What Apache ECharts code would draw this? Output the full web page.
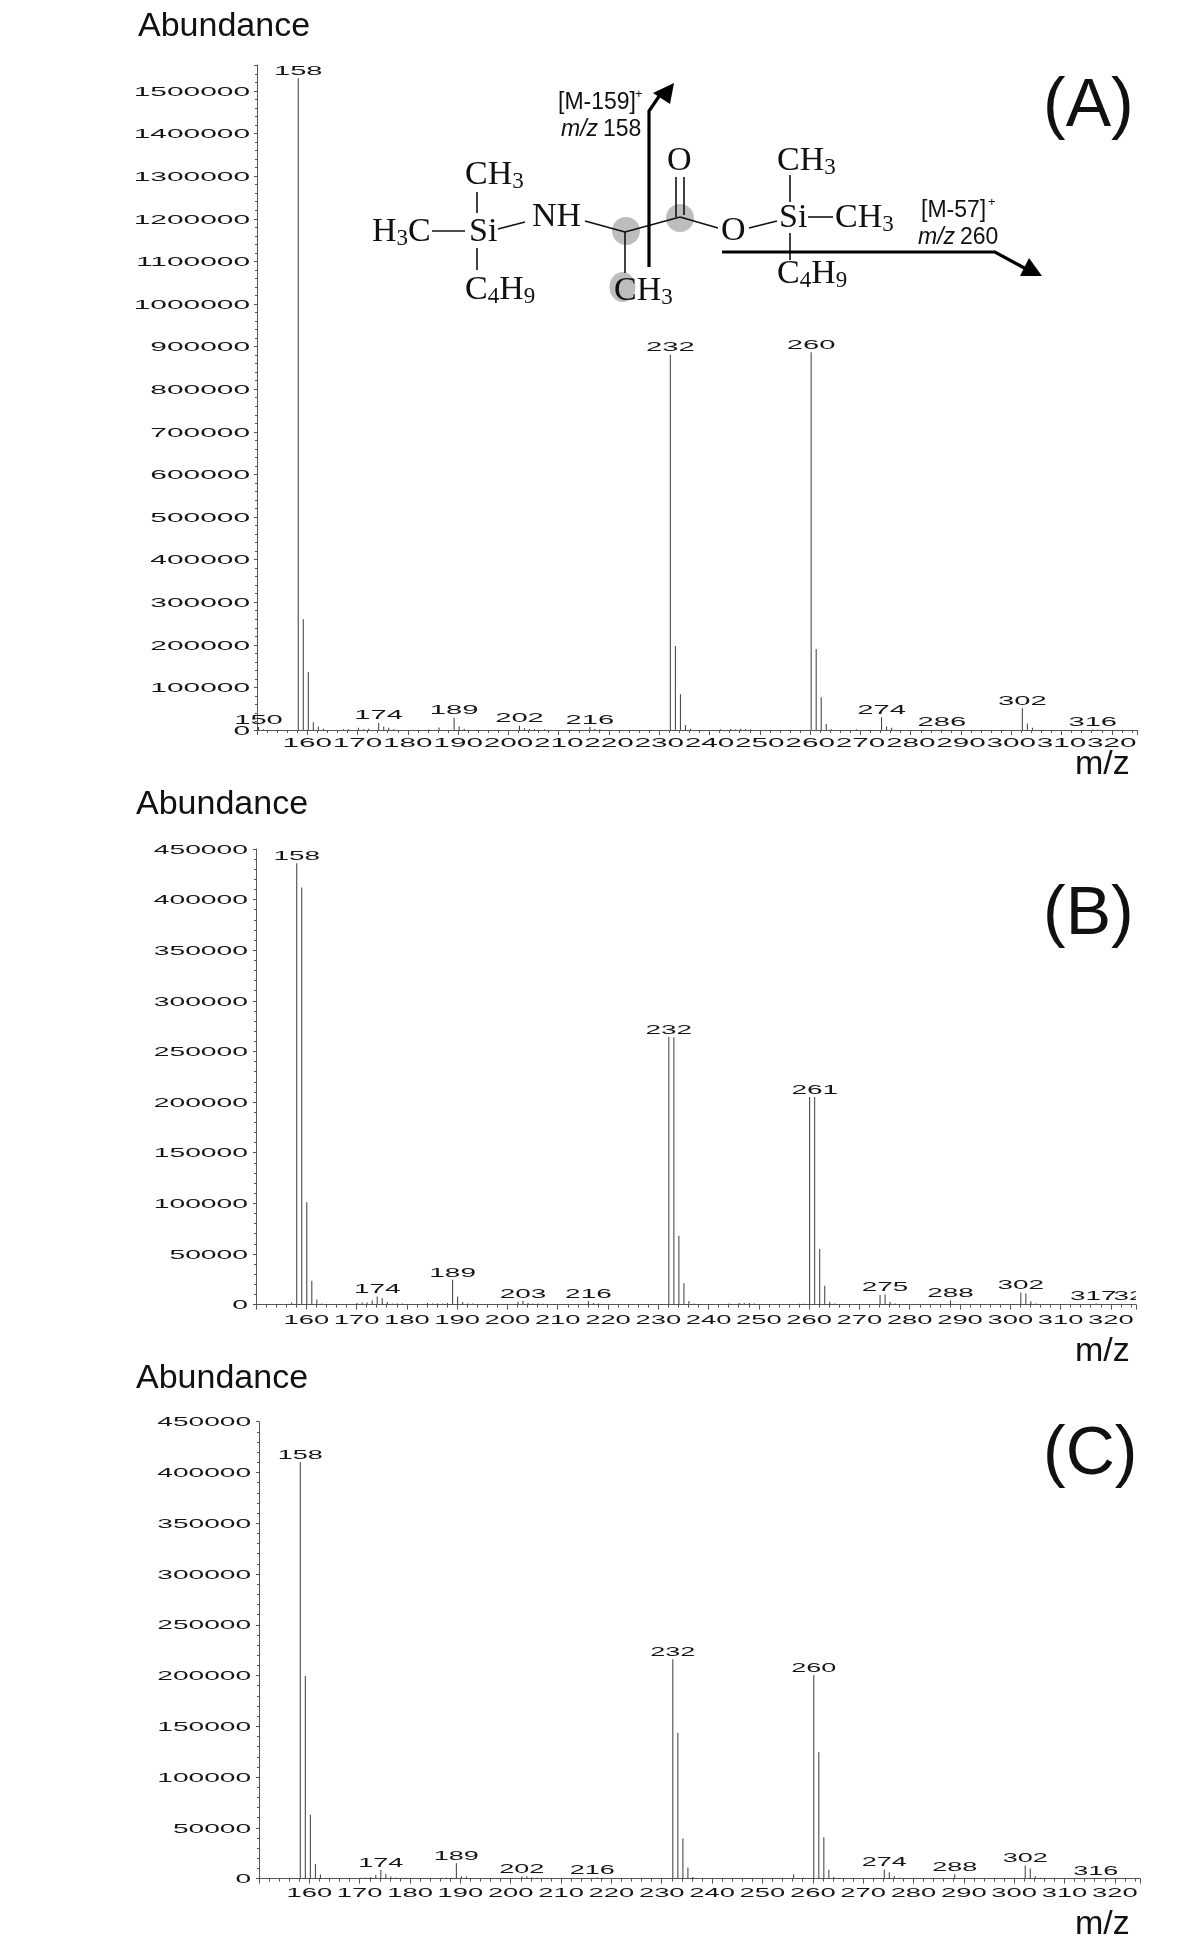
<!DOCTYPE html>
<html><head><meta charset="utf-8">
<style>html,body{margin:0;padding:0;background:#fff}#c{width:1200px;height:1944px}</style>
<script src="https://cdn.jsdelivr.net/npm/echarts@6/dist/echarts.min.js"></script>
</head><body><div id="c"></div>
<script>
// ---- data ----
const xTicks = [160,170,180,190,200,210,220,230,240,250,260,270,280,290,300,310,320];
const yTicksA = [0,100000,200000,300000,400000,500000,600000,700000,800000,900000,1000000,1100000,1200000,1300000,1400000,1500000];
const yTicksBC = [0,50000,100000,150000,200000,250000,300000,350000,400000,450000];

const peaksA = [[150.3,7000],[151.3,2000],[158.2,1530000],[159.2,260000],[160.2,136000],[161.2,18000],[162.2,8000],[163.2,3000],[167.2,1500],[168.2,1500],[170.2,5000],[171.2,2000],[172.2,3000],[174.2,17000],[175.2,8000],[176.2,5000],[177.2,2000],[184.2,1500],[186.2,6000],[189.2,29000],[190.2,8000],[191.2,3000],[202.2,10000],[203.2,4000],[204.2,2500],[205.2,2000],[207.2,1500],[216.2,7000],[217.2,3000],[218.2,1500],[232.2,881000],[233.2,197000],[234.2,84000],[235.2,12000],[236.2,3000],[242.2,1500],[244.2,2500],[245.2,2000],[246.2,3000],[247.2,2500],[248.2,1500],[260.2,887000],[261.2,190000],[262.2,77000],[263.2,14000],[264.2,2000],[269.2,1500],[274.2,30000],[275.2,8000],[276.2,5000],[286.2,1000],[302.2,51000],[303.2,15000],[304.2,5000],[316.2,1000],[317.2,1000]];
const peaksB = [[152.1,500],[154.1,500],[157.1,2000],[158.1,436000],[159.1,412000],[160.1,101000],[161.1,23600],[162.1,5000],[163.1,1000],[170.1,1500],[171.1,2000],[172.1,2000],[173.1,4000],[174.1,8000],[175.1,6500],[176.1,2500],[177.1,1000],[178.1,1000],[179.1,1000],[184.1,1500],[185.1,1000],[186.1,1000],[187.1,1000],[188.1,1500],[189.1,24500],[190.1,8000],[191.1,2500],[192.1,1000],[193.1,1000],[202.1,2800],[203.1,3500],[204.1,1600],[205.1,1000],[206.1,1000],[207.1,800],[216.1,3500],[217.1,1500],[218.1,1000],[232.1,264500],[233.1,264000],[234.1,68000],[235.1,21000],[236.1,3500],[237.1,1000],[238.1,500],[244.1,1000],[246.1,1500],[247.1,1500],[248.1,1500],[249.1,1000],[258.1,800],[259.1,800],[260.1,205000],[261.1,205000],[262.1,55000],[263.1,18500],[264.1,2800],[265.1,1000],[274.1,9500],[275.1,10000],[276.1,2700],[277.1,1000],[288.1,4000],[289.1,500],[302.1,12000],[303.1,11000],[304.1,3300],[305.1,1000],[317.1,1000]];
const peaksC = [[158.2,410000],[159.2,199500],[160.2,63000],[161.2,14500],[162.2,4000],[163.2,500],[170.2,800],[171.2,1000],[172.2,1500],[173.2,3500],[174.2,8500],[175.2,4500],[176.2,2000],[177.2,1000],[178.2,800],[179.2,800],[180.2,500],[186.2,800],[187.2,1000],[188.2,800],[189.2,15000],[190.2,2200],[191.2,2000],[192.2,700],[202.2,2000],[203.2,2200],[204.2,1000],[205.2,800],[207.2,500],[216.2,500],[217.2,1000],[218.2,800],[232.2,216000],[233.2,143700],[234.2,39500],[235.2,11000],[236.2,1600],[237.2,500],[245.2,700],[247.2,700],[249.2,700],[256.2,4300],[258.2,800],[259.2,500],[260.2,200500],[261.2,124500],[262.2,40800],[263.2,8700],[264.2,1600],[265.2,500],[274.2,9000],[275.2,6200],[276.2,2300],[277.2,900],[278.2,500],[288.2,4300],[289.2,700],[290.2,500],[302.2,13000],[303.2,9900],[304.2,2300],[305.2,800],[306.2,500],[316.2,500],[318.2,500]];

const labelsA = [[150.3,7000,'150'],[158.2,1530000,'158'],[174.2,17000,'174'],[189.2,29000,'189'],[202.2,10000,'202'],[216.2,7000,'216'],[232.2,881000,'232'],[260.2,887000,'260'],[274.2,30000,'274'],[286.2,1000,'286'],[302.2,51000,'302'],[316.2,1000,'316']];
const labelsB = [[158.1,436000,'158'],[174.1,8000,'174'],[189.1,24500,'189'],[203.1,3500,'203'],[216.1,3500,'216'],[232.1,264500,'232'],[261.1,205000,'261'],[275.1,10000,'275'],[288.1,4000,'288'],[302.1,12000,'302'],[316.5,1000,'317']];
const labelsBClipped = [[323.6,1000,'32']];
const labelsC = [[158.2,410000,'158'],[174.2,8500,'174'],[189.2,15000,'189'],[202.2,2000,'202'],[216.2,1000,'216'],[232.2,216000,'232'],[260.2,200500,'260'],[274.2,9000,'274'],[288.2,4300,'288'],[302.2,13000,'302'],[316.2,800,'316']];

// ---- helpers ----
const INK = '#151515', AX = '#555', SANS = '"Liberation Sans",Arial,sans-serif', SERIF = '"Liberation Serif","Times New Roman",serif';
const DIGIT = 7.5;   // digit advance of the 13.5px face; the labels of the original are stretched wide
const face = '13.5px ' + SANS;

function stretched(px, py, s, wide, align) {
  return {type:'text', x:px, y:py, scaleX:wide/DIGIT, silent:true,
    style:{text:s, font:face, fill:INK, textAlign:align, textVerticalAlign:'middle'}};
}
function textSeries(g, rows, fn, clip) {
  return {type:'custom', xAxisIndex:g, yAxisIndex:g, clip:!!clip, silent:true, z:5,
    data: rows.map(r => [r[0], r[1]]),
    renderItem:(p, api) => {
      const pt = api.coord([api.value(0), api.value(1)]);
      return fn(pt, rows[p.dataIndex]);
    }};
}
const panels = [
  {left:257, right:1137, top:65,   zero:730,    ymax:1561000, yI:100000, yT:yTicksA,  peaks:peaksA, labels:labelsA, w:{x:16.5,y:16.6,p:16.2}, yr:7, xo:13.5},
  {left:256, right:1136, top:849,  zero:1304.6, ymax:450000,  yI:50000,  yT:yTicksBC, peaks:peaksB, labels:labelsB, w:{x:15.2,y:15.7,p:15.5}, yr:8, xo:15.5},
  {left:259, right:1140, top:1421.7,zero:1878.6,ymax:450000,  yI:50000,  yT:yTicksBC, peaks:peaksC, labels:labelsC, w:{x:15.2,y:15.6,p:15}, yr:8, xo:15}
];
const grid=[], xAxis=[], yAxis=[], series=[];
panels.forEach((P,i)=>{
  grid.push({left:P.left, width:P.right-P.left, top:P.top, height:P.zero-P.top});
  const line = {show:true, onZero:false, lineStyle:{color:AX, width:1}};
  xAxis.push({type:'value', gridIndex:i, min:150, max:325, interval:10, axisLine:line,
    axisTick:{show:true, length:5, lineStyle:{color:AX}}, minorTick:{show:true, splitNumber:5, length:3, lineStyle:{color:AX}},
    axisLabel:{show:false}, splitLine:{show:false}, minorSplitLine:{show:false}});
  yAxis.push({type:'value', gridIndex:i, min:0, max:P.ymax, interval:P.yI, axisLine:line,
    axisTick:{show:true, length:3, lineStyle:{color:AX}}, minorTick:{show:true, splitNumber:5, length:2, lineStyle:{color:AX}},
    axisLabel:{show:false}, splitLine:{show:false}, minorSplitLine:{show:false}});
  series.push({type:'bar', xAxisIndex:i, yAxisIndex:i, barWidth:1, silent:true, data:P.peaks,
    itemStyle:{color:'#3a3a3a'}, animation:false});
  series.push(textSeries(i, P.yT.map(v=>[150,v,String(v)]),
    (pt,r)=>stretched(pt[0]-P.yr, pt[1]+1, r[2], P.w.y, 'right')));
  series.push(textSeries(i, xTicks.map(v=>[v,0,String(v)]),
    (pt,r)=>stretched(pt[0], pt[1]+P.xo, r[2], P.w.x, 'center')));
  series.push(textSeries(i, P.labels,
    (pt,r)=>stretched(pt[0], pt[1]-7, r[2], P.w.p, 'center')));
});
series.push(textSeries(1, labelsBClipped,
  (pt,r)=>stretched(pt[0], pt[1]-7, r[2], 15.5, 'center'), true));

// ---- annotations ----
const g = [];
const sansText=(x,y,t,size,extra)=>g.push({type:'text',x,y,silent:true,style:Object.assign({text:t,font:size+'px '+SANS,fill:'#111',textVerticalAlign:'middle'},extra||{})});
[[138,26.5],[136,805],[136,1379]].forEach(p=>sansText(p[0],p[1],'Abundance',34));
[[1075,765],[1075,1352],[1075,1924.5]].forEach(p=>sansText(p[0],p[1],'m/z',34));
[[1043,107.5],[1043,915.5],[1043,1455.5]].forEach((p,i)=>sansText(p[0],p[1],['(A)','(B)','(C)'][i],68));

// molecule
const adv={C:.667,H:.722,O:.722,N:.722,S:.556,i:.278,'3':.5,'4':.5,'9':.5};
function chem(x,y,parts){ // parts alternate normal / subscript runs
  let cx=x;
  parts.forEach((s,k)=>{
    const sub=k%2===1, size=sub?23:34;
    g.push({type:'text',x:cx,y:y+1+(sub?7:0),silent:true,z:3,style:{text:s,font:size+'px '+SERIF,fill:'#111',textVerticalAlign:'middle'}});
    for(const ch of s) cx+=adv[ch]*size;
  });
}
[[626,231,14,14],[680,218,14,14],[622.5,287,13,15]].forEach(e=>g.push({type:'ellipse',silent:true,z:1,shape:{cx:e[0],cy:e[1],rx:e[2],ry:e[3]},style:{fill:'#bdbdbd'}}));
chem(465,174,['CH','3']); chem(372,231,['H','3','C']); chem(469,231,['Si']); chem(532,216,['NH']); chem(465,289,['C','4','H','9']);
chem(614,290,['CH','3']); chem(667,160,['O']); chem(721,230,['O']); chem(779,217,['Si']); chem(835,217,['CH','3']); chem(777,160,['CH','3']); chem(777,273,['C','4','H','9']);
const bonds=[[432,231,465,231],[477,192,477,213],[477,248,477,270],[498,229,525,222],[585,221,625,232],[625,232,680,217],[676,177,676,217],[684,177,684,215],[680,217,718,228],[749,228,777,221],[808,217,833,217],[790,175,790,202],[790,233,790,260],[625,232,625,273]];
bonds.forEach(b=>g.push({type:'line',silent:true,z:2,shape:{x1:b[0],y1:b[1],x2:b[2],y2:b[3]},style:{stroke:'#111',lineWidth:1.6}}));
// cleavage arrows
g.push({type:'polyline',silent:true,z:4,shape:{points:[[649,267],[649,111],[662,92]]},style:{stroke:'#000',lineWidth:3.2,fill:null}});
g.push({type:'polygon',silent:true,z:4,shape:{points:[[674,83],[653,93],[670,104]]},style:{fill:'#000'}});
g.push({type:'polyline',silent:true,z:4,shape:{points:[[722,252],[995,252],[1028,270]]},style:{stroke:'#000',lineWidth:3.2,fill:null}});
g.push({type:'polygon',silent:true,z:4,shape:{points:[[1042,276],[1020,276],[1029,258]]},style:{fill:'#000'}});
// fragment labels
const frag=23;
sansText(558,103,'[M-159]',frag); sansText(635,94,'+',13);
g.push({type:'text',x:561,y:130,silent:true,style:{text:'m/z',font:'italic '+frag+'px '+SANS,fill:'#111',textVerticalAlign:'middle'}}); sansText(603,130,'158',frag);
sansText(921,211,'[M-57]',frag); sansText(988,202,'+',13);
g.push({type:'text',x:918,y:238,silent:true,style:{text:'m/z',font:'italic '+frag+'px '+SANS,fill:'#111',textVerticalAlign:'middle'}}); sansText(960,238,'260',frag);

const chart = echarts.init(document.getElementById('c'), null, {renderer:'canvas', width:1200, height:1944});
chart.setOption({animation:false, backgroundColor:'#fff', tooltip:{show:false}, legend:{show:false}, grid, xAxis, yAxis, series, graphic:{elements:g}});
</script></body></html>
